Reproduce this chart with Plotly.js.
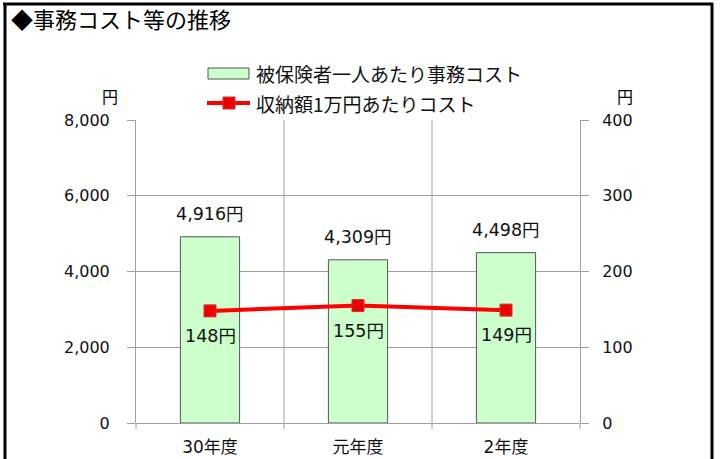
<!DOCTYPE html>
<html><head><meta charset="utf-8">
<script src="https://cdn.plot.ly/plotly-3.0.1.min.js"></script>
<style>html,body{margin:0;padding:0;background:#fff}#chart{width:724px;height:459px}</style>
</head><body><div id="chart"></div>
<script>
const categories = ["30年度", "元年度", "2年度"];
const costPerInsured = [4916, 4309, 4498];
const costPer10000Yen = [148, 155, 149];
const seriesNames = ["被保険者一人あたり事務コスト", "収納額1万円あたりコスト"];
const leftTicks = [0, 2000, 4000, 6000, 8000];
const rightTicks = [0, 100, 200, 300, 400];

const L = 136, R = 580, T = 120, B = 423;
const W = 724, H = 459;
const px = x => (x - L) / (R - L);
const py = y => (B - y) / (B - T);

const jp = '"Noto Sans CJK JP", "Noto Sans", sans-serif';
const num = '"DejaVu Sans", "Noto Sans CJK JP", sans-serif';

const bar = {
  type: 'bar', x: categories, y: costPerInsured, name: seriesNames[0],
  width: 0.4,
  marker: {color: '#ccffcc', line: {color: '#555555', width: 1}},
  showlegend: false, hoverinfo: 'x+y'
};
const line = {
  type: 'scatter', mode: 'lines+markers', x: categories, y: costPer10000Yen,
  name: seriesNames[1], yaxis: 'y2',
  line: {color: '#ff0000', width: 4},
  marker: {symbol: 'square', size: 12, color: '#ee0000', line: {color: '#cc3333', width: 1}},
  showlegend: false
};

const annotations = [];
costPerInsured.forEach((v, i) => {
  annotations.push({x: categories[i], y: v, xref: 'x', yref: 'y', text: v.toLocaleString('en-US') + '円',
    showarrow: false, yanchor: 'middle', yshift: 23, font: {family: num, size: 17.5, color: '#111'}});
});
costPer10000Yen.forEach((v, i) => {
  annotations.push({x: categories[i], y: v, xref: 'x', yref: 'y2', text: v + '円',
    showarrow: false, yanchor: 'middle', yshift: -25, font: {family: num, size: 17.5, color: '#111'}});
});
annotations.push(
  {xref: 'paper', yref: 'paper', x: px(9), y: py(18), xanchor: 'left', yanchor: 'middle',
   text: '◆事務コスト等の推移', showarrow: false, font: {family: jp, size: 22, color: '#000'}},
  {xref: 'paper', yref: 'paper', x: px(110), y: py(96), xanchor: 'center', yanchor: 'middle',
   text: '円', showarrow: false, font: {family: jp, size: 16, color: '#000'}},
  {xref: 'paper', yref: 'paper', x: px(625), y: py(96), xanchor: 'center', yanchor: 'middle',
   text: '円', showarrow: false, font: {family: jp, size: 16, color: '#000'}},
  {xref: 'paper', yref: 'paper', x: px(254), y: py(74), xanchor: 'left', yanchor: 'middle',
   text: seriesNames[0], showarrow: false, font: {family: jp, size: 19, color: '#111'}},
  {xref: 'paper', yref: 'paper', x: px(254), y: py(103), xanchor: 'left', yanchor: 'middle',
   text: seriesNames[1], showarrow: false, font: {family: jp, size: 19, color: '#111'}}
);

const shapes = [
  {type: 'rect', xref: 'paper', yref: 'paper', x0: px(208), x1: px(249), y0: py(79), y1: py(68),
   fillcolor: '#ccffcc', line: {color: '#555', width: 1}},
  {type: 'line', xref: 'paper', yref: 'paper', x0: px(207), x1: px(250), y0: py(103), y1: py(103),
   line: {color: '#ff0000', width: 4}},
  {type: 'rect', xref: 'paper', yref: 'paper', x0: px(223), x1: px(235), y0: py(109), y1: py(97),
   fillcolor: '#ee0000', line: {color: '#cc3333', width: 1}},
  {type: 'line', xref: 'paper', yref: 'paper', x0: px(3), x1: px(713), y0: py(4), y1: py(4),
   line: {color: '#000', width: 3}},
  {type: 'line', xref: 'paper', yref: 'paper', x0: px(5), x1: px(5), y0: py(3), y1: py(470),
   line: {color: '#000', width: 3}},
  {type: 'line', xref: 'paper', yref: 'paper', x0: px(712), x1: px(712), y0: py(3), y1: py(470),
   line: {color: '#000', width: 3}},
  ...[0.5, 1.5].map(c => ({type: 'line', xref: 'x', yref: 'paper', x0: c, x1: c, y0: -0.02, y1: 1,
   line: {color: '#a0a0a0', width: 1}, layer: 'below'})),
  {type: 'line', xref: 'paper', yref: 'paper', x0: 0, x1: 0, y0: 0, y1: -0.02, line: {color: '#a0a0a0', width: 1}},
  {type: 'line', xref: 'paper', yref: 'paper', x0: 1, x1: 1, y0: 0, y1: -0.02, line: {color: '#a0a0a0', width: 1}}
];

const layout = {
  width: W, height: H,
  margin: {l: L, r: W - R, t: T, b: H - B, pad: 0},
  paper_bgcolor: '#fff', plot_bgcolor: '#fff',
  showlegend: false,
  xaxis: {type: 'category', range: [-0.5, 2.5], showgrid: false, showline: false, zeroline: false,
    ticks: '', tickfont: {family: num, size: 17, color: '#111'}, ticklabelstandoff: 12, fixedrange: true},
  yaxis: {range: [0, 8000], tickvals: leftTicks, ticktext: leftTicks.map(v => v.toLocaleString('en-US')),
    showgrid: true, gridcolor: '#a0a0a0', gridwidth: 1, zeroline: true, zerolinecolor: '#a0a0a0',
    showline: true, linecolor: '#a0a0a0', linewidth: 1, ticks: 'outside', ticklen: 8, tickcolor: '#a0a0a0',
    ticklabelstandoff: 14,
    tickfont: {family: num, size: 16, color: '#111'}, fixedrange: true},
  yaxis2: {range: [0, 400], tickvals: rightTicks, overlaying: 'y', side: 'right',
    showgrid: false, zeroline: false, showline: true, linecolor: '#a0a0a0', linewidth: 1,
    ticks: 'outside', ticklen: 8, tickcolor: '#a0a0a0', ticklabelstandoff: 10,
    tickfont: {family: num, size: 16, color: '#111'}, fixedrange: true},
  annotations: annotations,
  shapes: shapes
};

Plotly.newPlot('chart', [bar, line], layout, {displayModeBar: false, staticPlot: true});
</script>
</body></html>
